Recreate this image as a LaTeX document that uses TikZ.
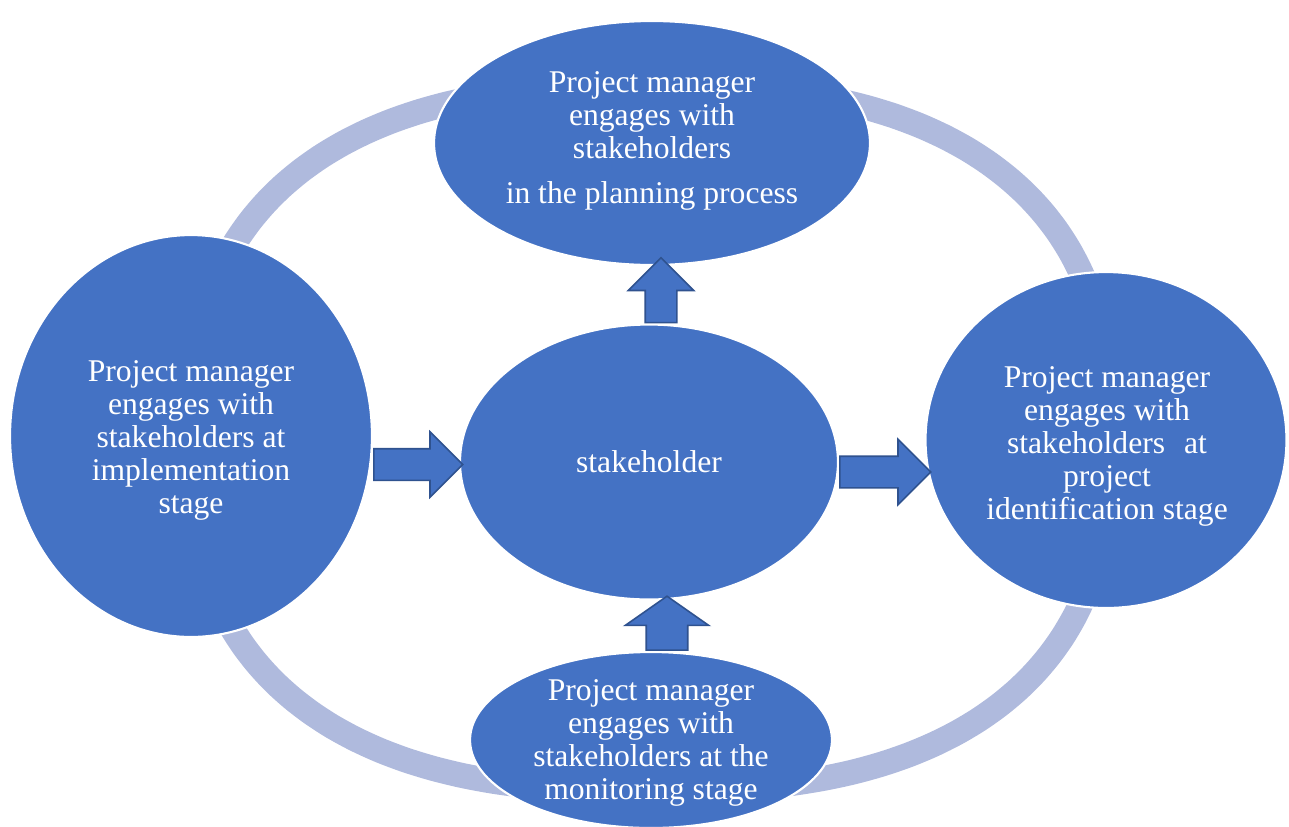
\documentclass[tikz,border=0pt]{standalone}
\usepackage{fontspec}
\setmainfont{Liberation Serif}
\usetikzlibrary{
  shapes.geometric,
  shapes.arrows
}
\definecolor{blobblue}{HTML}{4472C4}
\definecolor{arrowline}{HTML}{2F528F}
\definecolor{ringblue}{HTML}{AFBADD}
\tikzset{
  blob/.style={ellipse, fill=blobblue, draw=white, line width=1.2pt, inner sep=0pt},
  blobtext/.style={align=center, text=white, inner sep=0pt, font=\fontsize{18}{18.8}\selectfont},
  blockarrow/.style={single arrow, fill=blobblue, draw=arrowline, line width=0.9pt,
    inner sep=0pt, text height=0.6cm, text depth=0pt, anchor=tail,
    single arrow head extend=0.34cm, single arrow tip angle=90, minimum height=#1},
  ring/.style={draw=ringblue, line width=0.5cm}
}

\begin{document}
\begin{tikzpicture}[x=0.02cm, y=-0.02cm]
    \useasboundingbox (0,0) rectangle (1289,826);
    % the cycle behind the stages
    \draw[ring] plot[smooth cycle, domain=1:357, samples=90, variable=\t]
      ({650+460*sign(cos(\t))*abs(cos(\t))^0.8}, {438+353*sign(sin(\t))*abs(sin(\t))^0.8});
    % the five stages
    \node[blob, minimum width=8.72cm, minimum height=4.88cm] (plan) at (652,143) {};
    \node[blob, minimum width=7.24cm, minimum height=8.04cm] (impl) at (191,436) {};
    \node[blob, minimum width=7.56cm, minimum height=5.5cm] (core) at (649,462) {};
    \node[blob, minimum width=7.22cm, minimum height=6.72cm] (ident) at (1106,440) {};
    \node[blob, minimum width=7.24cm, minimum height=3.52cm] (monit) at (651,740) {};
    % block arrows
    \path ([yshift=-0.05cm]impl.east |- core.west) -- node[pos=0, blockarrow=1.78cm] (toCore) {} ([yshift=-0.05cm]core.west);
    \path ([yshift=-0.2cm]core.east) -- node[pos=0, blockarrow=1.82cm] (toIdent) {} ([yshift=-0.2cm]core.east -| ident.west);
    \path ([xshift=0.24cm]core.north) -- node[pos=0, blockarrow=1.3cm, rotate=90] (toPlan) {} ([xshift=0.24cm]core.north |- plan.south);
    \path ([xshift=0.32cm]monit.north) -- node[pos=0, blockarrow=1.08cm, rotate=90, text height=0.8cm,
      single arrow head extend=0.42cm, single arrow tip angle=110] (toCoreUp) {} ([xshift=0.32cm]monit.north |- core.south);
    % texts
    \node[blobtext] (planText) at ([yshift=0.04cm]plan.center) {Project manager\\ engages with\\ stakeholders\\[7pt] in the planning process};
    \node[blobtext] (implText) at ([yshift=-0.08cm]impl.center) {Project manager\\ engages with\\ stakeholders at\\ implementation\\ stage};
    \node[blobtext] (coreText) at (core.center) {stakeholder};
    \node[blobtext] (identText) at ([xshift=0.02cm, yshift=-0.12cm]ident.center) {Project manager\\ engages with\\ stakeholders\hspace{0.35em} at\\ project\\ identification stage};
    \node[blobtext] (monitText) at ([yshift=-0.06cm]monit.center) {Project manager\\ engages with\\ stakeholders at the\\ monitoring stage};
\end{tikzpicture}
\end{document}
